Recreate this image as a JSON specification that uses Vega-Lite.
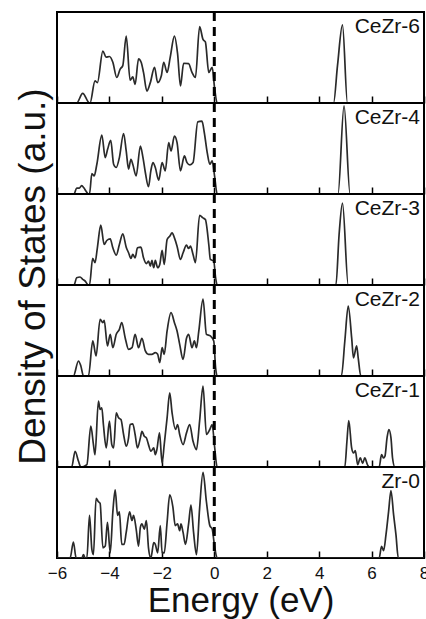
{
"$schema":"https://vega.github.io/schema/vega-lite/v6.json",
"padding":{"left":13,"top":9,"right":0,"bottom":0},
"background":"white",
"config":{"view":{"stroke":"black","strokeWidth":2},"font":"Liberation Sans"},
"spacing":0,
"bounds":"flush",
"datasets":{
"labels":[{"s":"CeZr-6","label":"CeZr-6"},{"s":"CeZr-4","label":"CeZr-4"},{"s":"CeZr-3","label":"CeZr-3"},{"s":"CeZr-2","label":"CeZr-2"},{"s":"CeZr-1","label":"CeZr-1"},{"s":"Zr-0","label":"Zr-0"}],
"dos":[
{"s":"CeZr-6","E":-6,"d":0},{"s":"CeZr-6","E":-5.25,"d":0},{"s":"CeZr-6","E":-5.02,"d":0.105},{"s":"CeZr-6","E":-4.76,"d":0},{"s":"CeZr-6","E":-4.74,"d":0},{"s":"CeZr-6","E":-4.55,"d":0.243},{"s":"CeZr-6","E":-4.46,"d":0.224},{"s":"CeZr-6","E":-4.25,"d":0.571},{"s":"CeZr-6","E":-4.13,"d":0.504},{"s":"CeZr-6","E":-4.0,"d":0.511},{"s":"CeZr-6","E":-3.87,"d":0.448},{"s":"CeZr-6","E":-3.72,"d":0.28},{"s":"CeZr-6","E":-3.59,"d":0.373},{"s":"CeZr-6","E":-3.49,"d":0.411},{"s":"CeZr-6","E":-3.36,"d":0.735},{"s":"CeZr-6","E":-3.21,"d":0.25},{"s":"CeZr-6","E":-3.11,"d":0.287},{"s":"CeZr-6","E":-3.02,"d":0.205},{"s":"CeZr-6","E":-2.89,"d":0.485},{"s":"CeZr-6","E":-2.79,"d":0.448},{"s":"CeZr-6","E":-2.7,"d":0.336},{"s":"CeZr-6","E":-2.57,"d":0.131},{"s":"CeZr-6","E":-2.44,"d":0.224},{"s":"CeZr-6","E":-2.28,"d":0.392},{"s":"CeZr-6","E":-2.16,"d":0.224},{"s":"CeZr-6","E":-2.02,"d":0.299},{"s":"CeZr-6","E":-1.93,"d":0.448},{"s":"CeZr-6","E":-1.8,"d":0.336},{"s":"CeZr-6","E":-1.68,"d":0.504},{"s":"CeZr-6","E":-1.52,"d":0.735},{"s":"CeZr-6","E":-1.4,"d":0.541},{"s":"CeZr-6","E":-1.29,"d":0.187},{"s":"CeZr-6","E":-1.17,"d":0.437},{"s":"CeZr-6","E":-0.98,"d":0.433},{"s":"CeZr-6","E":-0.85,"d":0.336},{"s":"CeZr-6","E":-0.72,"d":0.28},{"s":"CeZr-6","E":-0.56,"d":0.839},{"s":"CeZr-6","E":-0.43,"d":0.698},{"s":"CeZr-6","E":-0.34,"d":0.672},{"s":"CeZr-6","E":-0.21,"d":0.336},{"s":"CeZr-6","E":-0.08,"d":0.392},{"s":"CeZr-6","E":0.01,"d":0.168},{"s":"CeZr-6","E":0.11,"d":0},{"s":"CeZr-6","E":4.55,"d":0},{"s":"CeZr-6","E":4.7,"d":0.41},{"s":"CeZr-6","E":4.89,"d":0.858},{"s":"CeZr-6","E":5.08,"d":0},{"s":"CeZr-6","E":8,"d":0},
{"s":"CeZr-4","E":-6,"d":0},{"s":"CeZr-4","E":-5.35,"d":0},{"s":"CeZr-4","E":-5.25,"d":0.065},{"s":"CeZr-4","E":-5.15,"d":0.065},{"s":"CeZr-4","E":-5.06,"d":0.091},{"s":"CeZr-4","E":-4.97,"d":0.065},{"s":"CeZr-4","E":-4.89,"d":0.029},{"s":"CeZr-4","E":-4.8,"d":0},{"s":"CeZr-4","E":-4.76,"d":0},{"s":"CeZr-4","E":-4.67,"d":0.225},{"s":"CeZr-4","E":-4.58,"d":0.2},{"s":"CeZr-4","E":-4.48,"d":0.327},{"s":"CeZr-4","E":-4.29,"d":0.647},{"s":"CeZr-4","E":-4.16,"d":0.4},{"s":"CeZr-4","E":-4.07,"d":0.491},{"s":"CeZr-4","E":-3.95,"d":0.589},{"s":"CeZr-4","E":-3.84,"d":0.327},{"s":"CeZr-4","E":-3.74,"d":0.291},{"s":"CeZr-4","E":-3.62,"d":0.4},{"s":"CeZr-4","E":-3.46,"d":0.665},{"s":"CeZr-4","E":-3.36,"d":0.473},{"s":"CeZr-4","E":-3.27,"d":0.273},{"s":"CeZr-4","E":-3.18,"d":0.382},{"s":"CeZr-4","E":-3.11,"d":0.327},{"s":"CeZr-4","E":-2.98,"d":0.2},{"s":"CeZr-4","E":-2.82,"d":0.527},{"s":"CeZr-4","E":-2.72,"d":0.4},{"s":"CeZr-4","E":-2.63,"d":0.236},{"s":"CeZr-4","E":-2.51,"d":0.08},{"s":"CeZr-4","E":-2.42,"d":0.255},{"s":"CeZr-4","E":-2.34,"d":0.345},{"s":"CeZr-4","E":-2.25,"d":0.291},{"s":"CeZr-4","E":-2.12,"d":0.153},{"s":"CeZr-4","E":-1.99,"d":0.345},{"s":"CeZr-4","E":-1.87,"d":0.255},{"s":"CeZr-4","E":-1.74,"d":0.564},{"s":"CeZr-4","E":-1.65,"d":0.473},{"s":"CeZr-4","E":-1.52,"d":0.636},{"s":"CeZr-4","E":-1.42,"d":0.564},{"s":"CeZr-4","E":-1.29,"d":0.255},{"s":"CeZr-4","E":-1.14,"d":0.418},{"s":"CeZr-4","E":-1.04,"d":0.345},{"s":"CeZr-4","E":-0.93,"d":0.32},{"s":"CeZr-4","E":-0.81,"d":0.345},{"s":"CeZr-4","E":-0.63,"d":0.793},{"s":"CeZr-4","E":-0.47,"d":0.8},{"s":"CeZr-4","E":-0.38,"d":0.673},{"s":"CeZr-4","E":-0.27,"d":0.455},{"s":"CeZr-4","E":-0.17,"d":0.327},{"s":"CeZr-4","E":-0.08,"d":0.364},{"s":"CeZr-4","E":0.01,"d":0.2},{"s":"CeZr-4","E":0.11,"d":0},{"s":"CeZr-4","E":4.72,"d":0},{"s":"CeZr-4","E":4.95,"d":0.97},{"s":"CeZr-4","E":5.18,"d":0},{"s":"CeZr-4","E":8,"d":0},
{"s":"CeZr-3","E":-6,"d":0},{"s":"CeZr-3","E":-5.35,"d":0},{"s":"CeZr-3","E":-5.25,"d":0.08},{"s":"CeZr-3","E":-5.12,"d":0.088},{"s":"CeZr-3","E":-5.02,"d":0.062},{"s":"CeZr-3","E":-4.93,"d":0.044},{"s":"CeZr-3","E":-4.8,"d":0},{"s":"CeZr-3","E":-4.76,"d":0},{"s":"CeZr-3","E":-4.64,"d":0.292},{"s":"CeZr-3","E":-4.55,"d":0.245},{"s":"CeZr-3","E":-4.46,"d":0.409},{"s":"CeZr-3","E":-4.33,"d":0.657},{"s":"CeZr-3","E":-4.2,"d":0.445},{"s":"CeZr-3","E":-4.1,"d":0.489},{"s":"CeZr-3","E":-3.97,"d":0.507},{"s":"CeZr-3","E":-3.87,"d":0.409},{"s":"CeZr-3","E":-3.74,"d":0.328},{"s":"CeZr-3","E":-3.62,"d":0.445},{"s":"CeZr-3","E":-3.49,"d":0.562},{"s":"CeZr-3","E":-3.36,"d":0.416},{"s":"CeZr-3","E":-3.27,"d":0.354},{"s":"CeZr-3","E":-3.18,"d":0.292},{"s":"CeZr-3","E":-3.11,"d":0.336},{"s":"CeZr-3","E":-3.02,"d":0.299},{"s":"CeZr-3","E":-2.93,"d":0.409},{"s":"CeZr-3","E":-2.8,"d":0.416},{"s":"CeZr-3","E":-2.7,"d":0.299},{"s":"CeZr-3","E":-2.59,"d":0.234},{"s":"CeZr-3","E":-2.51,"d":0.263},{"s":"CeZr-3","E":-2.44,"d":0.208},{"s":"CeZr-3","E":-2.38,"d":0.27},{"s":"CeZr-3","E":-2.31,"d":0.19},{"s":"CeZr-3","E":-2.25,"d":0.27},{"s":"CeZr-3","E":-2.16,"d":0.19},{"s":"CeZr-3","E":-2.08,"d":0.226},{"s":"CeZr-3","E":-1.99,"d":0.38},{"s":"CeZr-3","E":-1.91,"d":0.226},{"s":"CeZr-3","E":-1.8,"d":0.5},{"s":"CeZr-3","E":-1.7,"d":0.536},{"s":"CeZr-3","E":-1.61,"d":0.573},{"s":"CeZr-3","E":-1.52,"d":0.518},{"s":"CeZr-3","E":-1.42,"d":0.427},{"s":"CeZr-3","E":-1.29,"d":0.281},{"s":"CeZr-3","E":-1.19,"d":0.354},{"s":"CeZr-3","E":-1.06,"d":0.438},{"s":"CeZr-3","E":-0.98,"d":0.401},{"s":"CeZr-3","E":-0.91,"d":0.427},{"s":"CeZr-3","E":-0.81,"d":0.336},{"s":"CeZr-3","E":-0.72,"d":0.245},{"s":"CeZr-3","E":-0.56,"d":0.766},{"s":"CeZr-3","E":-0.43,"d":0.737},{"s":"CeZr-3","E":-0.34,"d":0.719},{"s":"CeZr-3","E":-0.21,"d":0.445},{"s":"CeZr-3","E":-0.15,"d":0.281},{"s":"CeZr-3","E":-0.02,"d":0.263},{"s":"CeZr-3","E":0.05,"d":0.08},{"s":"CeZr-3","E":0.11,"d":0},{"s":"CeZr-3","E":4.64,"d":0},{"s":"CeZr-3","E":4.76,"d":0.55},{"s":"CeZr-3","E":4.89,"d":0.9},{"s":"CeZr-3","E":5.11,"d":0},{"s":"CeZr-3","E":8,"d":0},
{"s":"CeZr-2","E":-6,"d":0},{"s":"CeZr-2","E":-5.375,"d":0},{"s":"CeZr-2","E":-5.18,"d":0.165},{"s":"CeZr-2","E":-5.09,"d":0.11},{"s":"CeZr-2","E":-4.99,"d":0},{"s":"CeZr-2","E":-4.8,"d":0},{"s":"CeZr-2","E":-4.635,"d":0.385},{"s":"CeZr-2","E":-4.51,"d":0.22},{"s":"CeZr-2","E":-4.355,"d":0.623},{"s":"CeZr-2","E":-4.25,"d":0.586},{"s":"CeZr-2","E":-4.2,"d":0.612},{"s":"CeZr-2","E":-4.075,"d":0.33},{"s":"CeZr-2","E":-3.97,"d":0.458},{"s":"CeZr-2","E":-3.87,"d":0.311},{"s":"CeZr-2","E":-3.74,"d":0.458},{"s":"CeZr-2","E":-3.62,"d":0.513},{"s":"CeZr-2","E":-3.53,"d":0.586},{"s":"CeZr-2","E":-3.4,"d":0.421},{"s":"CeZr-2","E":-3.27,"d":0.293},{"s":"CeZr-2","E":-3.14,"d":0.311},{"s":"CeZr-2","E":-3.02,"d":0.458},{"s":"CeZr-2","E":-2.89,"d":0.311},{"s":"CeZr-2","E":-2.76,"d":0.414},{"s":"CeZr-2","E":-2.63,"d":0.275},{"s":"CeZr-2","E":-2.51,"d":0.238},{"s":"CeZr-2","E":-2.38,"d":0.238},{"s":"CeZr-2","E":-2.25,"d":0.256},{"s":"CeZr-2","E":-2.16,"d":0.238},{"s":"CeZr-2","E":-2.08,"d":0.147},{"s":"CeZr-2","E":-1.99,"d":0.311},{"s":"CeZr-2","E":-1.91,"d":0.238},{"s":"CeZr-2","E":-1.8,"d":0.495},{"s":"CeZr-2","E":-1.65,"d":0.696},{"s":"CeZr-2","E":-1.52,"d":0.586},{"s":"CeZr-2","E":-1.42,"d":0.495},{"s":"CeZr-2","E":-1.32,"d":0.348},{"s":"CeZr-2","E":-1.19,"d":0.183},{"s":"CeZr-2","E":-1.06,"d":0.414},{"s":"CeZr-2","E":-0.98,"d":0.458},{"s":"CeZr-2","E":-0.85,"d":0.311},{"s":"CeZr-2","E":-0.76,"d":0.385},{"s":"CeZr-2","E":-0.68,"d":0.311},{"s":"CeZr-2","E":-0.59,"d":0.495},{"s":"CeZr-2","E":-0.43,"d":0.846},{"s":"CeZr-2","E":-0.3,"d":0.458},{"s":"CeZr-2","E":-0.15,"d":0.44},{"s":"CeZr-2","E":-0.02,"d":0.385},{"s":"CeZr-2","E":0.05,"d":0.092},{"s":"CeZr-2","E":0.11,"d":0},{"s":"CeZr-2","E":4.85,"d":0},{"s":"CeZr-2","E":4.98,"d":0.385},{"s":"CeZr-2","E":5.11,"d":0.769},{"s":"CeZr-2","E":5.24,"d":0.421},{"s":"CeZr-2","E":5.31,"d":0.2},{"s":"CeZr-2","E":5.43,"d":0.33},{"s":"CeZr-2","E":5.49,"d":0.2},{"s":"CeZr-2","E":5.59,"d":0},{"s":"CeZr-2","E":8,"d":0},
{"s":"CeZr-1","E":-6,"d":0},{"s":"CeZr-1","E":-5.44,"d":0},{"s":"CeZr-1","E":-5.31,"d":0.173},{"s":"CeZr-1","E":-5.18,"d":0.0625},{"s":"CeZr-1","E":-5.09,"d":0},{"s":"CeZr-1","E":-4.86,"d":0.026},{"s":"CeZr-1","E":-4.71,"d":0.449},{"s":"CeZr-1","E":-4.61,"d":0.246},{"s":"CeZr-1","E":-4.55,"d":0.136},{"s":"CeZr-1","E":-4.42,"d":0.724},{"s":"CeZr-1","E":-4.355,"d":0.632},{"s":"CeZr-1","E":-4.29,"d":0.651},{"s":"CeZr-1","E":-4.23,"d":0.467},{"s":"CeZr-1","E":-4.12,"d":0.21},{"s":"CeZr-1","E":-4.0,"d":0.504},{"s":"CeZr-1","E":-3.91,"d":0.246},{"s":"CeZr-1","E":-3.84,"d":0.21},{"s":"CeZr-1","E":-3.74,"d":0.596},{"s":"CeZr-1","E":-3.65,"d":0.54},{"s":"CeZr-1","E":-3.56,"d":0.522},{"s":"CeZr-1","E":-3.46,"d":0.357},{"s":"CeZr-1","E":-3.36,"d":0.228},{"s":"CeZr-1","E":-3.27,"d":0.32},{"s":"CeZr-1","E":-3.21,"d":0.467},{"s":"CeZr-1","E":-3.11,"d":0.474},{"s":"CeZr-1","E":-3.02,"d":0.357},{"s":"CeZr-1","E":-2.93,"d":0.21},{"s":"CeZr-1","E":-2.82,"d":0.32},{"s":"CeZr-1","E":-2.76,"d":0.393},{"s":"CeZr-1","E":-2.67,"d":0.338},{"s":"CeZr-1","E":-2.59,"d":0.32},{"s":"CeZr-1","E":-2.51,"d":0.246},{"s":"CeZr-1","E":-2.42,"d":0.173},{"s":"CeZr-1","E":-2.31,"d":0.21},{"s":"CeZr-1","E":-2.25,"d":0.136},{"s":"CeZr-1","E":-2.19,"d":0.191},{"s":"CeZr-1","E":-2.09,"d":0.375},{"s":"CeZr-1","E":-1.99,"d":0.044},{"s":"CeZr-1","E":-1.91,"d":0.246},{"s":"CeZr-1","E":-1.8,"d":0.54},{"s":"CeZr-1","E":-1.7,"d":0.816},{"s":"CeZr-1","E":-1.61,"d":0.596},{"s":"CeZr-1","E":-1.48,"d":0.412},{"s":"CeZr-1","E":-1.4,"d":0.467},{"s":"CeZr-1","E":-1.32,"d":0.357},{"s":"CeZr-1","E":-1.19,"d":0.246},{"s":"CeZr-1","E":-1.06,"d":0.375},{"s":"CeZr-1","E":-0.94,"d":0.467},{"s":"CeZr-1","E":-0.81,"d":0.283},{"s":"CeZr-1","E":-0.68,"d":0.191},{"s":"CeZr-1","E":-0.56,"d":0.504},{"s":"CeZr-1","E":-0.43,"d":0.89},{"s":"CeZr-1","E":-0.3,"d":0.357},{"s":"CeZr-1","E":-0.17,"d":0.412},{"s":"CeZr-1","E":-0.08,"d":0.467},{"s":"CeZr-1","E":0.01,"d":0.228},{"s":"CeZr-1","E":0.11,"d":0},{"s":"CeZr-1","E":4.98,"d":0},{"s":"CeZr-1","E":5.06,"d":0.283},{"s":"CeZr-1","E":5.13,"d":0.511},{"s":"CeZr-1","E":5.24,"d":0.21},{"s":"CeZr-1","E":5.31,"d":0.154},{"s":"CeZr-1","E":5.38,"d":0.18},{"s":"CeZr-1","E":5.47,"d":0.026},{"s":"CeZr-1","E":5.57,"d":0.1},{"s":"CeZr-1","E":5.66,"d":0.04},{"s":"CeZr-1","E":5.74,"d":0.1},{"s":"CeZr-1","E":5.85,"d":0.02},{"s":"CeZr-1","E":5.91,"d":0},{"s":"CeZr-1","E":6.29,"d":0},{"s":"CeZr-1","E":6.38,"d":0.136},{"s":"CeZr-1","E":6.46,"d":0.099},{"s":"CeZr-1","E":6.51,"d":0.118},{"s":"CeZr-1","E":6.59,"d":0.32},{"s":"CeZr-1","E":6.66,"d":0.412},{"s":"CeZr-1","E":6.74,"d":0.32},{"s":"CeZr-1","E":6.8,"d":0.099},{"s":"CeZr-1","E":6.89,"d":0},{"s":"CeZr-1","E":8,"d":0},
{"s":"Zr-0","E":-6,"d":0},{"s":"Zr-0","E":-5.5,"d":0},{"s":"Zr-0","E":-5.375,"d":0.176},{"s":"Zr-0","E":-5.27,"d":0},{"s":"Zr-0","E":-5.05,"d":0},{"s":"Zr-0","E":-4.99,"d":0.037},{"s":"Zr-0","E":-4.93,"d":0},{"s":"Zr-0","E":-4.86,"d":0},{"s":"Zr-0","E":-4.76,"d":0.468},{"s":"Zr-0","E":-4.67,"d":0.094},{"s":"Zr-0","E":-4.61,"d":0.037},{"s":"Zr-0","E":-4.51,"d":0.655},{"s":"Zr-0","E":-4.42,"d":0.618},{"s":"Zr-0","E":-4.355,"d":0.6},{"s":"Zr-0","E":-4.25,"d":0.112},{"s":"Zr-0","E":-4.16,"d":0.131},{"s":"Zr-0","E":-4.075,"d":0.393},{"s":"Zr-0","E":-3.97,"d":0.056},{"s":"Zr-0","E":-3.87,"d":0.506},{"s":"Zr-0","E":-3.78,"d":0.749},{"s":"Zr-0","E":-3.69,"d":0.468},{"s":"Zr-0","E":-3.62,"d":0.506},{"s":"Zr-0","E":-3.53,"d":0.15},{"s":"Zr-0","E":-3.44,"d":0.15},{"s":"Zr-0","E":-3.36,"d":0.281},{"s":"Zr-0","E":-3.23,"d":0.506},{"s":"Zr-0","E":-3.14,"d":0.412},{"s":"Zr-0","E":-3.08,"d":0.468},{"s":"Zr-0","E":-2.98,"d":0.318},{"s":"Zr-0","E":-2.89,"d":0.131},{"s":"Zr-0","E":-2.82,"d":0.337},{"s":"Zr-0","E":-2.76,"d":0.375},{"s":"Zr-0","E":-2.67,"d":0.318},{"s":"Zr-0","E":-2.59,"d":0.412},{"s":"Zr-0","E":-2.51,"d":0.112},{"s":"Zr-0","E":-2.42,"d":0},{"s":"Zr-0","E":-2.31,"d":0.169},{"s":"Zr-0","E":-2.25,"d":0.15},{"s":"Zr-0","E":-2.16,"d":0.056},{"s":"Zr-0","E":-2.06,"d":0.356},{"s":"Zr-0","E":-1.99,"d":0.056},{"s":"Zr-0","E":-1.91,"d":0.056},{"s":"Zr-0","E":-1.8,"d":0.393},{"s":"Zr-0","E":-1.7,"d":0.693},{"s":"Zr-0","E":-1.58,"d":0.562},{"s":"Zr-0","E":-1.49,"d":0.356},{"s":"Zr-0","E":-1.4,"d":0.375},{"s":"Zr-0","E":-1.32,"d":0.3},{"s":"Zr-0","E":-1.27,"d":0.375},{"s":"Zr-0","E":-1.19,"d":0.281},{"s":"Zr-0","E":-1.1,"d":0.15},{"s":"Zr-0","E":-0.98,"d":0.375},{"s":"Zr-0","E":-0.89,"d":0.58},{"s":"Zr-0","E":-0.79,"d":0.281},{"s":"Zr-0","E":-0.68,"d":0.037},{"s":"Zr-0","E":-0.56,"d":0.543},{"s":"Zr-0","E":-0.43,"d":0.94},{"s":"Zr-0","E":-0.3,"d":0.618},{"s":"Zr-0","E":-0.17,"d":0.356},{"s":"Zr-0","E":-0.08,"d":0.318},{"s":"Zr-0","E":0.01,"d":0.131},{"s":"Zr-0","E":0.11,"d":0},{"s":"Zr-0","E":6.29,"d":0},{"s":"Zr-0","E":6.38,"d":0.128},{"s":"Zr-0","E":6.46,"d":0.081},{"s":"Zr-0","E":6.55,"d":0.256},{"s":"Zr-0","E":6.65,"d":0.513},{"s":"Zr-0","E":6.74,"d":0.74},{"s":"Zr-0","E":6.84,"d":0.476},{"s":"Zr-0","E":6.93,"d":0.256},{"s":"Zr-0","E":7.02,"d":0},{"s":"Zr-0","E":8,"d":0}
]},
"vconcat":[
{"width":367,"height":91,"layer":[
{"data":{"name":"dos"},"transform":[{"filter":"datum.s === 'CeZr-6'"}],"mark":{"type":"line","color":"#2a2a2a","strokeWidth":1.7,"interpolate":"monotone","clip":true},"encoding":{"x":{"field":"E","type":"quantitative","scale":{"domain":[-6,8],"nice":false},"axis":{"values":[-6,-5,-4,-3,-2,-1,0,1,2,3,4,5,6,7,8],"labels":false,"title":null,"domain":false,"grid":false,"tickColor":"black","tickWidth":1.5,"tickSize":{"condition":{"test":"datum.value % 2 === 0","value":-7},"value":-4}}},"y":{"field":"d","type":"quantitative","scale":{"domain":[0,1],"nice":false},"axis":{"title":"Density of States (a.u.)","titleFontSize":37,"titleFontWeight":"normal","titleColor":"#111","titleX":-13,"titleY":264,"titleBaseline":"alphabetic","labels":false,"ticks":false,"domain":false,"grid":false}}}},
{"data":{"name":"labels"},"transform":[{"filter":"datum.s === 'CeZr-6'"}],"mark":{"type":"rule","strokeDash":[9,6],"strokeWidth":3,"color":"black"},"encoding":{"x":{"datum":0}}},
{"data":{"name":"labels"},"transform":[{"filter":"datum.s === 'CeZr-6'"}],"mark":{"type":"text","align":"right","baseline":"top","dx":-4,"dy":4,"fontSize":21,"color":"#111"},"encoding":{"x":{"datum":8},"y":{"datum":1},"text":{"field":"label"}}}
]},
{"width":367,"height":91,"layer":[
{"data":{"name":"dos"},"transform":[{"filter":"datum.s === 'CeZr-4'"}],"mark":{"type":"line","color":"#2a2a2a","strokeWidth":1.7,"interpolate":"monotone","clip":true},"encoding":{"x":{"field":"E","type":"quantitative","scale":{"domain":[-6,8],"nice":false},"axis":{"values":[-6,-5,-4,-3,-2,-1,0,1,2,3,4,5,6,7,8],"labels":false,"title":null,"domain":false,"grid":false,"tickColor":"black","tickWidth":1.5,"tickSize":{"condition":{"test":"datum.value % 2 === 0","value":-7},"value":-4}}},"y":{"field":"d","type":"quantitative","scale":{"domain":[0,1],"nice":false},"axis":null}}},
{"data":{"name":"labels"},"transform":[{"filter":"datum.s === 'CeZr-4'"}],"mark":{"type":"rule","strokeDash":[9,6],"strokeWidth":3,"color":"black"},"encoding":{"x":{"datum":0}}},
{"data":{"name":"labels"},"transform":[{"filter":"datum.s === 'CeZr-4'"}],"mark":{"type":"text","align":"right","baseline":"top","dx":-4,"dy":4,"fontSize":21,"color":"#111"},"encoding":{"x":{"datum":8},"y":{"datum":1},"text":{"field":"label"}}}
]},
{"width":367,"height":91,"layer":[
{"data":{"name":"dos"},"transform":[{"filter":"datum.s === 'CeZr-3'"}],"mark":{"type":"line","color":"#2a2a2a","strokeWidth":1.7,"interpolate":"monotone","clip":true},"encoding":{"x":{"field":"E","type":"quantitative","scale":{"domain":[-6,8],"nice":false},"axis":{"values":[-6,-5,-4,-3,-2,-1,0,1,2,3,4,5,6,7,8],"labels":false,"title":null,"domain":false,"grid":false,"tickColor":"black","tickWidth":1.5,"tickSize":{"condition":{"test":"datum.value % 2 === 0","value":-7},"value":-4}}},"y":{"field":"d","type":"quantitative","scale":{"domain":[0,1],"nice":false},"axis":null}}},
{"data":{"name":"labels"},"transform":[{"filter":"datum.s === 'CeZr-3'"}],"mark":{"type":"rule","strokeDash":[9,6],"strokeWidth":3,"color":"black"},"encoding":{"x":{"datum":0}}},
{"data":{"name":"labels"},"transform":[{"filter":"datum.s === 'CeZr-3'"}],"mark":{"type":"text","align":"right","baseline":"top","dx":-4,"dy":4,"fontSize":21,"color":"#111"},"encoding":{"x":{"datum":8},"y":{"datum":1},"text":{"field":"label"}}}
]},
{"width":367,"height":91,"layer":[
{"data":{"name":"dos"},"transform":[{"filter":"datum.s === 'CeZr-2'"}],"mark":{"type":"line","color":"#2a2a2a","strokeWidth":1.7,"interpolate":"monotone","clip":true},"encoding":{"x":{"field":"E","type":"quantitative","scale":{"domain":[-6,8],"nice":false},"axis":{"values":[-6,-5,-4,-3,-2,-1,0,1,2,3,4,5,6,7,8],"labels":false,"title":null,"domain":false,"grid":false,"tickColor":"black","tickWidth":1.5,"tickSize":{"condition":{"test":"datum.value % 2 === 0","value":-7},"value":-4}}},"y":{"field":"d","type":"quantitative","scale":{"domain":[0,1],"nice":false},"axis":null}}},
{"data":{"name":"labels"},"transform":[{"filter":"datum.s === 'CeZr-2'"}],"mark":{"type":"rule","strokeDash":[9,6],"strokeWidth":3,"color":"black"},"encoding":{"x":{"datum":0}}},
{"data":{"name":"labels"},"transform":[{"filter":"datum.s === 'CeZr-2'"}],"mark":{"type":"text","align":"right","baseline":"top","dx":-4,"dy":4,"fontSize":21,"color":"#111"},"encoding":{"x":{"datum":8},"y":{"datum":1},"text":{"field":"label"}}}
]},
{"width":367,"height":91,"layer":[
{"data":{"name":"dos"},"transform":[{"filter":"datum.s === 'CeZr-1'"}],"mark":{"type":"line","color":"#2a2a2a","strokeWidth":1.7,"interpolate":"monotone","clip":true},"encoding":{"x":{"field":"E","type":"quantitative","scale":{"domain":[-6,8],"nice":false},"axis":{"values":[-6,-5,-4,-3,-2,-1,0,1,2,3,4,5,6,7,8],"labels":false,"title":null,"domain":false,"grid":false,"tickColor":"black","tickWidth":1.5,"tickSize":{"condition":{"test":"datum.value % 2 === 0","value":-7},"value":-4}}},"y":{"field":"d","type":"quantitative","scale":{"domain":[0,1],"nice":false},"axis":null}}},
{"data":{"name":"labels"},"transform":[{"filter":"datum.s === 'CeZr-1'"}],"mark":{"type":"rule","strokeDash":[9,6],"strokeWidth":3,"color":"black"},"encoding":{"x":{"datum":0}}},
{"data":{"name":"labels"},"transform":[{"filter":"datum.s === 'CeZr-1'"}],"mark":{"type":"text","align":"right","baseline":"top","dx":-4,"dy":4,"fontSize":21,"color":"#111"},"encoding":{"x":{"datum":8},"y":{"datum":1},"text":{"field":"label"}}}
]},
{"width":367,"height":91,"layer":[
{"data":{"name":"dos"},"transform":[{"filter":"datum.s === 'Zr-0'"}],"mark":{"type":"line","color":"#2a2a2a","strokeWidth":1.7,"interpolate":"monotone","clip":true},"encoding":{"x":{"field":"E","type":"quantitative","scale":{"domain":[-6,8],"nice":false},"axis":{"values":[-6,-5,-4,-3,-2,-1,0,1,2,3,4,5,6,7,8],"labelExpr":"datum.value % 2 === 0 ? datum.label : ''","labelFontSize":17,"labelColor":"#111","labelPadding":14,"labelFlush":false,"title":"Energy (eV)","titleFontSize":35,"titleFontWeight":"normal","titleColor":"#111","titlePadding":2,"domain":false,"grid":false,"tickColor":"black","tickWidth":1.5,"tickSize":{"condition":{"test":"datum.value % 2 === 0","value":-7},"value":-4}}},"y":{"field":"d","type":"quantitative","scale":{"domain":[0,1],"nice":false},"axis":null}}},
{"data":{"name":"labels"},"transform":[{"filter":"datum.s === 'Zr-0'"}],"mark":{"type":"rule","strokeDash":[9,6],"strokeWidth":3,"color":"black"},"encoding":{"x":{"datum":0}}},
{"data":{"name":"labels"},"transform":[{"filter":"datum.s === 'Zr-0'"}],"mark":{"type":"text","align":"right","baseline":"top","dx":-4,"dy":4,"fontSize":21,"color":"#111"},"encoding":{"x":{"datum":8},"y":{"datum":1},"text":{"field":"label"}}}
]}
]
}
